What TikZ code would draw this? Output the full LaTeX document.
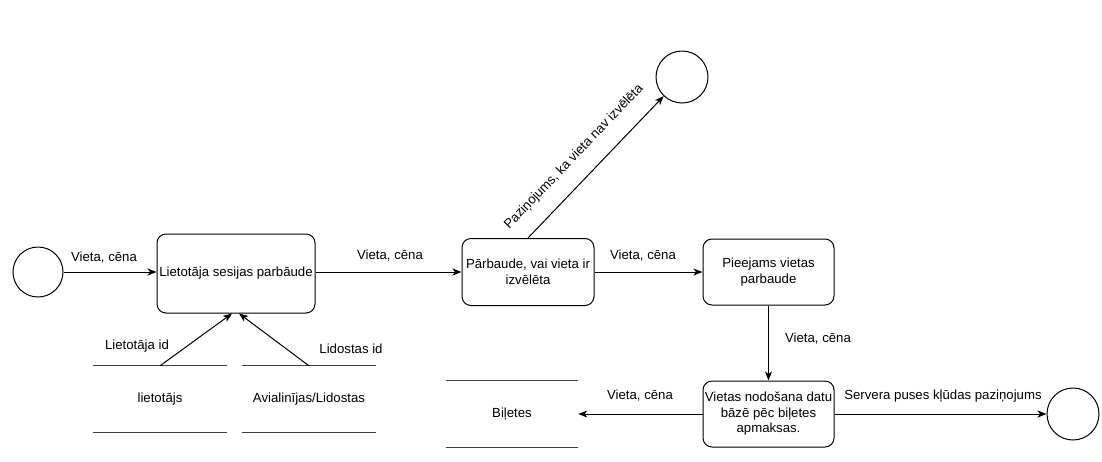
\documentclass[tikz,border=0pt]{standalone}
\usepackage{fontspec}
\setmainfont{Liberation Sans}
\usetikzlibrary{arrows.meta,calc}
\tikzset{
  fnt/.style={font=\fontsize{13.2pt}{16pt}\selectfont},
  proc/.style={draw, line width=1pt, rounded corners=9pt, align=center, inner sep=1pt, fnt},
  term/.style={draw, line width=1pt, circle, inner sep=0pt},
  store/.style={inner sep=0pt, align=center, fnt},
  lbl/.style={inner sep=0pt, fnt},
  arr/.style={line width=1pt, -{Stealth[length=9pt,width=7pt,inset=2.5pt]}},
  sline/.style={line width=1pt, draw=black!75}
}
\begin{document}
\begin{tikzpicture}[x=1pt,y=-1pt]
\useasboundingbox (0,0) rectangle (1102,461);
\fill[white] (0,0) rectangle (1102,461);

% terminals
\node[term, minimum size=50pt] (c1) at (38,272) {};
\node[term, minimum size=52pt] (c2) at (682,77) {};
\node[term, minimum size=52pt] (c3) at (1073,414) {};

% processes
\node[proc, minimum width=158pt, minimum height=79pt] (b1) at (236,273.5) {Lietotāja sesijas parbāude};
\node[proc, minimum width=132pt, minimum height=67pt] (b2) at (528,272) {Pārbaude, vai vieta ir\\izvēlēta};
\node[proc, minimum width=131pt, minimum height=66pt] (b3) at (768.5,272) {Pieejams vietas\\parbaude};
\node[proc, minimum width=131pt, minimum height=66pt, font=\fontsize{13.2pt}{15.5pt}\selectfont] (b4) at (768.5,414) {Vietas nodošana datu\\bāzē pēc biļetes\\apmaksas.};

% data stores
\node[store, minimum width=134pt, minimum height=66pt] (s1) at (160,399) {lietotājs};
\node[store, minimum width=134pt, minimum height=66pt] (s2) at (309,399) {Avialinījas/Lidostas};
\node[store, minimum width=132pt, minimum height=66pt] (s3) at (512,414) {Biļetes};
\foreach \s in {s1,s2,s3}{
  \draw[sline] (\s.north west) -- (\s.north east);
  \draw[sline] (\s.south west) -- (\s.south east);
}

% connectors
\draw[arr] (c1.east) -- (b1.west |- c1.east);
\draw[arr] (b1.east |- c1.east) -- (b2.west |- c1.east);
\draw[arr] (b2.east) -- (b3.west);
\draw[arr] (b3.south) -- (b4.north);
\draw[arr] (b4.west) -- (s3.east);
\draw[arr] (b4.east) -- (c3);
\draw[arr] (s1.north) -- ($(b1.south)+(-4,0)$);
\draw[arr] (s2.north) -- ($(b1.south)+(3,0)$);
\draw[arr] (b2.north) -- node[pos=0.46, sloped, above=16pt, lbl] (ld) {Paziņojums, ka vieta nav izvēlēta} (c2);

% labels
\node[lbl] (l1) at (104,258) {Vieta, cēna};
\node[lbl] (l2) at (390,256) {Vieta, cēna};
\node[lbl] (l3) at (643,256) {Vieta, cēna};
\node[lbl] (l4) at (818,339) {Vieta, cēna};
\node[lbl] (l5) at (640,396) {Vieta, cēna};
\node[lbl] (l6) at (943,396) {Servera puses kļūdas paziņojums};
\node[lbl] (l7) at (137,346) {Lietotāja id};
\node[lbl] (l8) at (351,349) {Lidostas id};
\end{tikzpicture}
\end{document}
